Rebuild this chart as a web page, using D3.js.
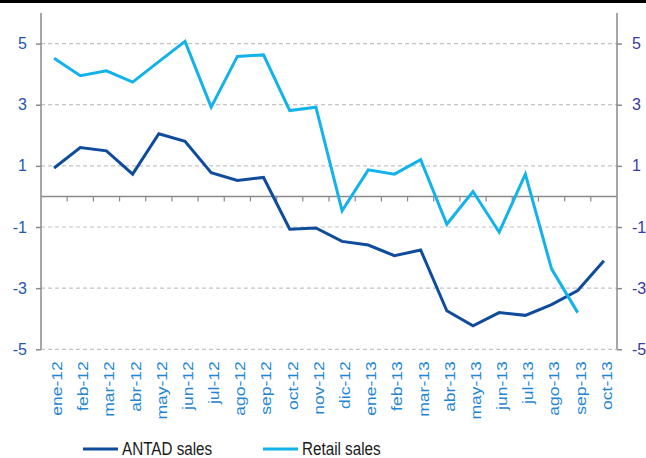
<!DOCTYPE html>
<html>
<head>
  <meta charset="utf-8">
  <script src="https://d3js.org/d3.v7.min.js"></script>
  <style>
    body { margin: 0; background: #fff; }
    svg { display: block; font-family: "Liberation Sans", Arial, sans-serif; }
  </style>
</head>
<body>
  <script type="text/javascript">

  /*
    Chart data (% yoy)
  */
    var months = ["ene-12", "feb-12", "mar-12", "abr-12", "may-12", "jun-12",
                  "jul-12", "ago-12", "sep-12", "oct-12", "nov-12", "dic-12",
                  "ene-13", "feb-13", "mar-13", "abr-13", "may-13", "jun-13",
                  "jul-13", "ago-13", "sep-13", "oct-13"];

    var antadSales = [0.93, 1.60, 1.49, 0.73, 2.05, 1.80, 0.78, 0.52, 0.62, -1.07, -1.03,
                      -1.47, -1.59, -1.94, -1.75, -3.74, -4.23, -3.80, -3.89, -3.54, -3.08, -2.10];

    var retailSales = [4.52, 3.95, 4.11, 3.74, 4.41, 5.07, 2.92, 4.58, 4.63, 2.81, 2.92,
                       -0.47, 0.87, 0.73, 1.20, -0.91, 0.16, -1.17, 0.73, -2.37, -3.80, null];

    var yTicks = [-5, -3, -1, 1, 3, 5];

    var seriesNames = ["ANTAD sales", "Retail sales"];
    var seriesColors = ["#0f4c9c", "#12b2ea"];

    function draw() {
      "use strict";
      var width = 646,
          height = 458,
          left = 41,
          right = 617,
          top = 13,
          bottom = 349.3,
          squeeze = 0.87;   // the source picture is a little narrow horizontally

      var svg = d3.select("body")
        .append("svg")
          .attr("width", width)
          .attr("height", height);

      /* thick black rule along the top edge */
      svg.append("rect")
        .attr("x", 0)
        .attr("y", 0)
        .attr("width", width)
        .attr("height", 3)
        .style("fill", "#000");

      var x = d3.scaleBand()
        .domain(months)
        .range([left, right]);

      var y = d3.scaleLinear()
        .domain([-5, 6])
        .range([bottom, top]);

      /*
        Dashed gridlines at each labelled value
      */
      svg.selectAll(".grid")
        .data(yTicks)
        .enter()
        .append("line")
          .attr("class", "grid")
          .attr("x1", left)
          .attr("x2", right)
          .attr("y1", function (d) { return y(d); })
          .attr("y2", function (d) { return y(d); })
          .style("stroke", "#c4c4c4")
          .style("stroke-width", 1.2)
          .style("stroke-dasharray", "4,3");

      /*
        Left and right value axes (plain hyphen for negatives)
      */
      var yLeft = d3.axisLeft(y)
        .tickValues(yTicks)
        .tickFormat(function (d) { return String(d); })
        .tickSize(5)
        .tickPadding(9);

      var gl = svg.append("g")
        .attr("transform", "translate(" + left + ",0)")
        .call(yLeft);
      gl.select(".domain").attr("d", "M0," + top + "V" + bottom);
      gl.selectAll("line, .domain").style("stroke", "#8a8a8a").style("stroke-width", 1.5);
      gl.selectAll("text")
        .style("font-size", "16px")
        .style("fill", "#2356a8");

      var yRight = d3.axisRight(y)
        .tickValues(yTicks)
        .tickFormat(function (d) { return String(d); })
        .tickSize(5)
        .tickPadding(10);

      var gr = svg.append("g")
        .attr("transform", "translate(" + right + ",0)")
        .call(yRight);
      gr.select(".domain").attr("d", "M0," + top + "V" + bottom);
      gr.selectAll("line, .domain").style("stroke", "#8a8a8a").style("stroke-width", 1.5);
      gr.selectAll("text")
        .style("font-size", "16px")
        .style("fill", "#3a3aa0");

      /*
        Zero line with small tick marks between the months
      */
      svg.append("line")
        .attr("x1", left)
        .attr("x2", right)
        .attr("y1", y(0))
        .attr("y2", y(0))
        .style("stroke", "#8a8a8a")
        .style("stroke-width", 1.5);

      svg.selectAll(".ztick")
        .data(months.slice(1))
        .enter()
        .append("line")
          .attr("class", "ztick")
          .attr("x1", function (d) { return x(d); })
          .attr("x2", function (d) { return x(d); })
          .attr("y1", y(0))
          .attr("y2", y(0) + 5)
          .style("stroke", "#8a8a8a")
          .style("stroke-width", 1.2);

      /* rotated month labels under the plot */
      svg.selectAll(".month")
        .data(months)
        .enter()
        .append("text")
          .attr("class", "month")
          .attr("transform", function (d) {
            return "translate(" + (x(d) + x.bandwidth() / 2) + "," + (bottom + 12) +
                   ") rotate(-90) scale(1," + squeeze + ")";
          })
          .attr("dy", "0.52em")
          .attr("text-anchor", "end")
          .style("font-size", "17.5px")
          .style("fill", "#1f86d6")
          .text(function (d) { return d; });

      /*
        The two series
      */
      var line = d3.line()
        .defined(function (d) { return d !== null; })
        .x(function (d, i) { return x(months[i]) + x.bandwidth() / 2; })
        .y(function (d) { return y(d); });

      [antadSales, retailSales].forEach(function (values, k) {
        svg.append("path")
          .datum(values)
          .attr("d", line)
          .style("fill", "none")
          .style("stroke", seriesColors[k])
          .style("stroke-width", 3)
          .style("stroke-linejoin", "miter");
      });

      /* legend */
      var legendX = [83, 263];
      seriesNames.forEach(function (name, k) {
        svg.append("line")
          .attr("x1", legendX[k])
          .attr("x2", legendX[k] + 35)
          .attr("y1", 449)
          .attr("y2", 449)
          .style("stroke", seriesColors[k])
          .style("stroke-width", 3);
        svg.append("text")
          .attr("transform", "translate(" + (legendX[k] + 39) + ",449) scale(" + squeeze + ",1)")
          .attr("dy", "0.35em")
          .style("font-size", "17.5px")
          .style("fill", "#1a1a1a")
          .text(name);
      });
    }

    draw();
  </script>
</body>
</html>
